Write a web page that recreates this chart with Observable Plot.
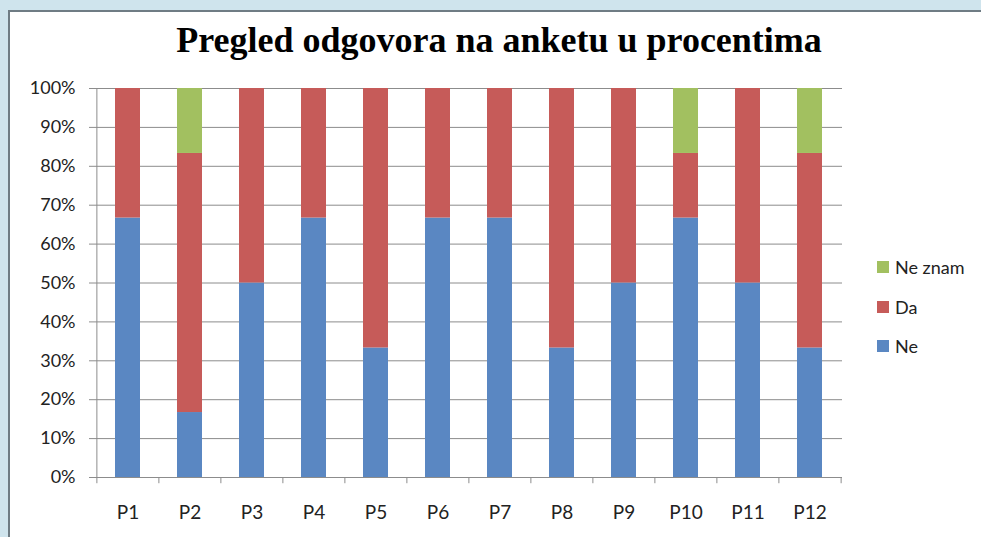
<!DOCTYPE html>
<html><head><meta charset="utf-8">
<script src="https://cdn.jsdelivr.net/npm/d3@7"></script>
<script src="https://cdn.jsdelivr.net/npm/@observablehq/plot@0.6"></script>
<style>
html,body{margin:0;padding:0;background:#cfe4ed;width:981px;height:537px;overflow:hidden;}
#panel{position:absolute;left:8px;top:10px;width:1000px;height:600px;background:#fff;border-left:2px solid #6f7c84;border-top:2px solid #6f7c84;}
#chart{position:absolute;left:0;top:0;}
#title{position:absolute;left:0;width:998px;top:22px;line-height:36px;text-align:center;font-family:"Liberation Serif","Times New Roman",serif;font-weight:bold;font-size:36px;color:#000;}
.leg{position:absolute;left:877px;font-family:Lato,"Open Sans",sans-serif;font-size:18px;color:#222;display:flex;align-items:center;}
.leg span.sw{display:inline-block;width:12px;height:12px;margin-right:6px;}
</style></head>
<body>
<div id="panel"></div>
<div id="chart"></div>
<div id="title">Pregled odgovora na anketu u procentima</div>
<script>
const categories = ["P1","P2","P3","P4","P5","P6","P7","P8","P9","P10","P11","P12"];
const seriesNames = ["Ne","Da","Ne znam"];
const ne     = [66.7,16.7,50,66.7,33.3,66.7,66.7,33.3,50,66.7,50,33.3];
const da     = [33.3,66.6,50,33.3,66.7,33.3,33.3,66.7,50,16.6,50,50];
const neZnam = [0,16.7,0,0,0,0,0,0,0,16.7,0,16.7];
const colors = ["#5a87c2","#c65b59","#a2c060"];
const yTicks = [0,10,20,30,40,50,60,70,80,90,100];

const seriesValues = [ne, da, neZnam];
const rows = [];
seriesNames.forEach((s, si) => categories.forEach((c, ci) => rows.push({cat: c, series: s, value: seriesValues[si][ci]})));

const W = 981, H = 537, mL = 95, mR = 139, mT = 88, mB = 60;
const step = (W - mL - mR) / categories.length;

const chart = Plot.plot({
  width: W, height: H,
  marginLeft: mL, marginRight: mR, marginTop: mT, marginBottom: mB,
  style: {background: "transparent", fontFamily: "Lato,'Open Sans',sans-serif", fontSize: "18px", color: "#222"},
  x: {domain: categories, paddingInner: 0.6, paddingOuter: 0.3, label: null},
  y: {domain: [0, 100], label: null},
  color: {domain: seriesNames, range: colors},
  marks: [
    Plot.gridY(yTicks, {stroke: "#8c8c8c", strokeOpacity: 1}),
    Plot.barY(rows, {x: "cat", y: "value", fill: "series", order: seriesNames}),
    Plot.ruleY([0], {stroke: "#8c8c8c"}),
    Plot.ruleX(categories, {x: d => d, y1: 0, y2: -1.6, dx: -step / 2, stroke: "#8c8c8c"}),
    Plot.ruleX([categories[categories.length - 1]], {x: d => d, y1: 0, y2: -1.6, dx: step / 2, stroke: "#8c8c8c"}),
    Plot.ruleX([categories[0]], {x: d => d, y1: 0, y2: 100, dx: -step / 2, stroke: "#8c8c8c"}),
    Plot.axisY(yTicks, {tickFormat: d => d + "%", tickSize: 6, tickPadding: 14, stroke: "#8c8c8c", fontSize: 18, fill: "#222"}),
    Plot.axisX({tickSize: 0, tickPadding: 28, fontSize: 19, fill: "#222"})
  ]
});
document.getElementById("chart").appendChild(chart);

const legendY = {"Ne znam": 267, "Da": 307, "Ne": 346};
["Ne znam","Da","Ne"].forEach(name => {
  const d = document.createElement("div");
  d.className = "leg";
  d.style.top = (legendY[name] - 11) + "px";
  d.style.height = "22px";
  const sw = document.createElement("span");
  sw.className = "sw";
  sw.style.background = colors[seriesNames.indexOf(name)];
  d.appendChild(sw);
  d.appendChild(document.createTextNode(name));
  document.body.appendChild(d);
});
</script>
</body></html>
